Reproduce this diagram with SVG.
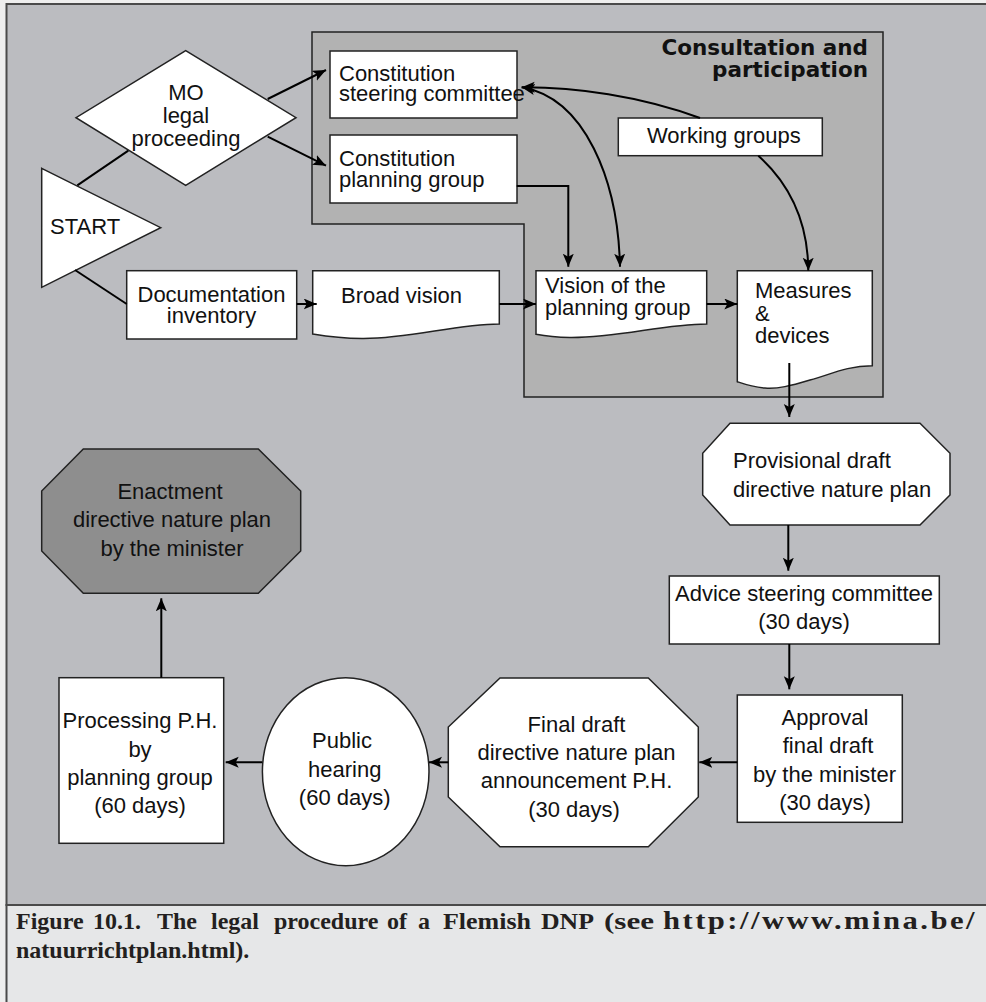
<svg xmlns="http://www.w3.org/2000/svg" width="986" height="1002" viewBox="0 0 986 1002">
<defs>
<style>
.node{fill:#ffffff;stroke:#222;stroke-width:1.5}
.t{font-family:"Liberation Sans",Arial,sans-serif;font-size:22px;fill:#111}
.c{text-anchor:middle}
.con{fill:none;stroke:#000;stroke-width:2}
.cap{font-family:"Liberation Serif","Times New Roman",serif;font-weight:bold;font-size:24px;fill:#231f20}
.url{font-size:25px;letter-spacing:2px}
</style>
<marker id="ah" markerUnits="userSpaceOnUse" markerWidth="14" markerHeight="12" refX="13" refY="5.5" orient="auto-start-reverse">
<path d="M0,0 L13,5.5 L0,11 L3,5.5 z" fill="#000"/>
</marker>
</defs>
<rect x="0" y="0" width="986" height="1002" fill="#eeeeee"/>
<rect x="6.5" y="4" width="990" height="901" fill="#bbbcc0" stroke="#4a4a4a" stroke-width="2"/>
<rect x="6.5" y="905" width="990" height="110" fill="#e6e7e8" stroke="#4a4a4a" stroke-width="2"/>

<g id="consultation">
<path d="M312,32 H883 V397 H524 V224 H312 Z" fill="#b2b2b2" stroke="#222" stroke-width="1.5"/>
<text x="868" y="55" text-anchor="end" style="font-family:'DejaVu Sans',sans-serif;font-weight:bold;font-size:21.5px;fill:#111">Consultation and</text>
<text x="868" y="77" text-anchor="end" style="font-family:'DejaVu Sans',sans-serif;font-weight:bold;font-size:21.5px;fill:#111">participation</text>
</g>

<g id="start">
<polygon class="node" points="41.7,168.3 160.7,227.7 41.7,287.3"/>
<text class="t" x="50" y="234">START</text>
</g>

<g id="mo">
<polygon class="node" points="185.7,50.7 296,117.7 185.7,185.3 76,117.7"/>
<text class="t c" x="186" y="100">MO</text>
<text class="t c" x="186" y="123">legal</text>
<text class="t c" x="186" y="145.5">proceeding</text>
</g>

<g id="steering">
<rect class="node" x="330" y="51" width="187" height="67"/>
<text class="t" x="339" y="80.5">Constitution</text>
<text class="t" x="339" y="101">steering committee</text>
</g>

<g id="planning">
<rect class="node" x="330" y="135" width="187" height="68"/>
<text class="t" x="339" y="165.5">Constitution</text>
<text class="t" x="339" y="187">planning group</text>
</g>

<g id="working">
<rect class="node" x="618.3" y="118" width="204" height="37.7"/>
<text class="t" x="647" y="143">Working groups</text>
</g>

<g id="documentation">
<rect class="node" x="126.7" y="270.7" width="170" height="68.3"/>
<text class="t c" x="211.5" y="301.5">Documentation</text>
<text class="t c" x="211.5" y="322.5">inventory</text>
</g>

<g id="broad">
<path class="node" d="M312.7,270.7 H499.3 V324 C455,324 410,339 362,338.5 C340,338.3 325,336 312.7,334 Z"/>
<text class="t" x="341" y="303">Broad vision</text>
</g>

<g id="vision">
<path class="node" d="M536,270.7 H706.7 V324 C663,324 618,338 570,337.5 C556,337.3 545,336 536,334.3 Z"/>
<text class="t" x="545" y="293.3">Vision of the</text>
<text class="t" x="545" y="315">planning group</text>
</g>

<g id="measures">
<path class="node" d="M737.3,270.7 H872.3 V365.7 C845,366 830,375 810,380 C790,386 778,389 765,388 C752,387 744,384 737.3,381.7 Z"/>
<text class="t" x="755" y="298.3">Measures</text>
<text class="t" x="755" y="320.7">&amp;</text>
<text class="t" x="755" y="342.7">devices</text>
</g>

<g id="provisional">
<polygon class="node" points="730,423.3 920,423.3 950,453.3 950,495 920,525 730,525 702.7,495 702.7,453.3"/>
<text class="t" x="733" y="467.7">Provisional draft</text>
<text class="t" x="733" y="496.7">directive nature plan</text>
</g>

<g id="advice">
<rect class="node" x="669.3" y="576" width="270" height="68"/>
<text class="t c" x="804" y="601">Advice steering committee</text>
<text class="t c" x="804" y="629.3">(30 days)</text>
</g>

<g id="approval">
<rect class="node" x="737.3" y="695" width="165" height="127.3"/>
<text class="t c" x="825" y="725">Approval</text>
<text class="t c" x="828" y="753.3">final draft</text>
<text class="t c" x="824.5" y="781.7">by the minister</text>
<text class="t c" x="825" y="810">(30 days)</text>
</g>

<g id="finaldraft">
<polygon class="node" points="500,678 648.3,678 698.3,727 698.3,797 648.3,846.7 500,846.7 448.3,797 448.3,727"/>
<text class="t c" x="576.5" y="731.7">Final draft</text>
<text class="t c" x="576.5" y="760">directive nature plan</text>
<text class="t c" x="576.5" y="788.3">announcement P.H.</text>
<text class="t c" x="574" y="816.7">(30 days)</text>
</g>

<g id="publichearing">
<ellipse class="node" cx="345.7" cy="771.7" rx="83.3" ry="94"/>
<text class="t c" x="342" y="748.3">Public</text>
<text class="t c" x="344.7" y="776.7">hearing</text>
<text class="t c" x="344.7" y="805">(60 days)</text>
</g>

<g id="processing">
<rect class="node" x="59" y="677.7" width="164.7" height="165.6"/>
<text class="t c" x="140" y="728.3">Processing P.H.</text>
<text class="t c" x="140" y="756.7">by</text>
<text class="t c" x="140" y="785">planning group</text>
<text class="t c" x="140" y="813.3">(60 days)</text>
</g>

<g id="enactment">
<polygon points="83.3,449 258.3,449 300.7,491 300.7,551 258.3,593.3 83.3,593.3 41.7,551 41.7,491" fill="#8e8e8e" stroke="#222" stroke-width="1.5"/>
<text class="t c" x="170" y="499.3">Enactment</text>
<text class="t c" x="172" y="527.3">directive nature plan</text>
<text class="t c" x="172" y="555.7">by the minister</text>
</g>

<g id="connectors">
<path class="con" d="M77.3,185.3 L128.3,150.7"/>
<path class="con" d="M75,270 L126.7,304"/>
<path class="con" d="M267.7,99 L326,70" marker-end="url(#ah)"/>
<path class="con" d="M267.7,136.7 L326,165.7" marker-end="url(#ah)"/>
<path class="con" d="M296.7,304 L316.7,304" marker-end="url(#ah)"/>
<path class="con" d="M499.3,304 L536,304" marker-end="url(#ah)"/>
<path class="con" d="M706.7,304 L737.3,304" marker-end="url(#ah)"/>
<path class="con" d="M516.7,186 H568.3 V266.7" marker-end="url(#ah)"/>
<path class="con" d="M521.7,87.3 C585,98 618,180 620,266.7" marker-start="url(#ah)" marker-end="url(#ah)"/>
<path class="con" d="M700,118 C640,96 575,87 521.7,87.3" marker-end="url(#ah)"/>
<path class="con" d="M758.3,155.7 C792,186 808,225 808.3,270.7" marker-end="url(#ah)"/>
<path class="con" d="M789.3,363 L789.3,417" marker-end="url(#ah)"/>
<path class="con" d="M788.3,525 L788.3,570.7" marker-end="url(#ah)"/>
<path class="con" d="M789.3,644 L789.3,689.3" marker-end="url(#ah)"/>
<path class="con" d="M737.3,762.3 L699.3,762.3" marker-end="url(#ah)"/>
<path class="con" d="M448.3,762.3 L429,762.3" marker-end="url(#ah)"/>
<path class="con" d="M262.3,762.3 L225.7,762.3" marker-end="url(#ah)"/>
<path class="con" d="M161.3,677.7 L161.3,598.3" marker-end="url(#ah)"/>
</g>

<g id="caption">
<text class="cap" y="929"><tspan x="16">Figure</tspan><tspan x="93">10.1.</tspan><tspan x="157">The</tspan><tspan x="211">legal</tspan><tspan x="274">procedure</tspan><tspan x="387">of</tspan><tspan x="418">a</tspan><tspan x="443" textLength="88" lengthAdjust="spacingAndGlyphs">Flemish</tspan><tspan x="541" textLength="53" lengthAdjust="spacingAndGlyphs">DNP</tspan><tspan x="604" textLength="50" lengthAdjust="spacingAndGlyphs">(see</tspan><tspan class="url" x="663" textLength="314" lengthAdjust="spacingAndGlyphs">http://www.mina.be/</tspan></text>
<text class="cap" x="16" y="958">natuurrichtplan.html).</text>
</g>
</svg>
